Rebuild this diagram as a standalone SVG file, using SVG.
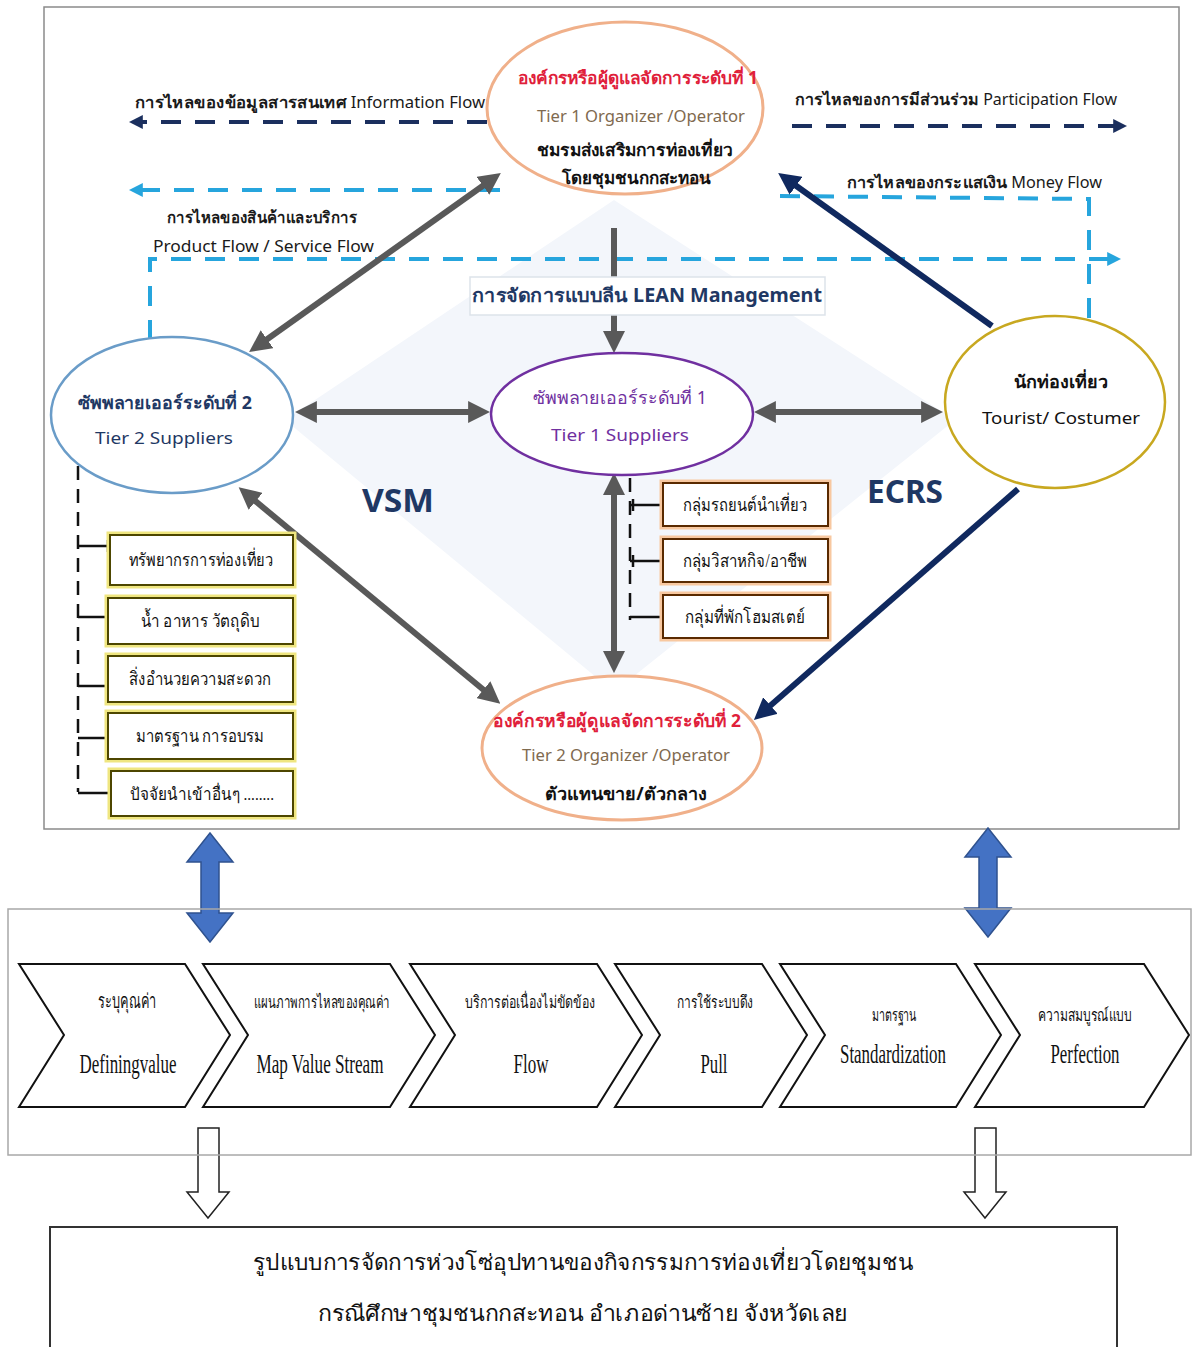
<svg xmlns="http://www.w3.org/2000/svg" width="1197" height="1347" viewBox="0 0 1197 1347">
<style>
text{font-family:"Noto Sans","Liberation Sans",sans-serif;}
.th{font-family:"Liberation Serif","Noto Sans",serif;}
.c{text-anchor:middle;}
.b{font-weight:bold;}
.navyT{fill:#1f3864;}
.red{fill:#e0203a;}
.brown{fill:#7f6a4f;}
.purple{fill:#7030a0;}
.gray{stroke:#595959;stroke-width:6;fill:none;}
.navyA{stroke:#10295f;stroke-width:6;fill:none;}
.dn{stroke:#1b2f5e;stroke-width:4;fill:none;stroke-dasharray:20 14;}
.dl{stroke:#26a5dd;stroke-width:4;fill:none;stroke-dasharray:20 14;}
.ybox{fill:#fff;stroke:#4d4600;stroke-width:2;}
.yglow{fill:none;stroke:#efe680;stroke-width:7;}
.obox{fill:#fff;stroke:#5a2a00;stroke-width:2;}
.oglow{fill:none;stroke:#f8c8a0;stroke-width:7;}
.tick{stroke:#111;stroke-width:2.5;fill:none;}
.dtick{stroke:#111;stroke-width:2.5;fill:none;stroke-dasharray:14 9;}
.chev{fill:#fff;stroke:#111;stroke-width:2;}
.ct{font-family:"Liberation Serif",serif;fill:#111;text-anchor:middle;}
.blk{fill:#4472c4;stroke:#2f528f;stroke-width:1.5;}
.hol{fill:#fff;stroke:#222;stroke-width:1.5;}
.fl{font-size:16px;fill:#1a1a1a;}
</style>
<defs>
<marker id="ag" viewBox="0 0 20 20" refX="9" refY="10" markerWidth="22" markerHeight="22" markerUnits="userSpaceOnUse" orient="auto-start-reverse"><path d="M0,0 L20,10 L0,20 z" fill="#595959"/></marker>
<marker id="an" viewBox="0 0 20 20" refX="9" refY="10" markerWidth="22" markerHeight="22" markerUnits="userSpaceOnUse" orient="auto-start-reverse"><path d="M0,0 L20,10 L0,20 z" fill="#10295f"/></marker>
<marker id="dn" viewBox="0 0 10 10" refX="2" refY="5" markerWidth="14" markerHeight="14" markerUnits="userSpaceOnUse" orient="auto"><path d="M0,0 L10,5 L0,10 z" fill="#1b2f5e"/></marker>
<marker id="dl" viewBox="0 0 10 10" refX="2" refY="5" markerWidth="14" markerHeight="14" markerUnits="userSpaceOnUse" orient="auto"><path d="M0,0 L10,5 L0,10 z" fill="#26a5dd"/></marker>
</defs>
<rect width="1197" height="1347" fill="#fff"/>
<!-- top frame -->
<rect x="44" y="7" width="1135" height="822" fill="#fff" stroke="#8a8a8a" stroke-width="1.5"/>
<polygon points="614,200 955,420 614,692 285,420" fill="#f3f6fb"/>

<g id="connectors">
  <line class="dn" x1="487" y1="122" x2="140" y2="122" marker-end="url(#dn)"/>
  <line class="dn" x1="792" y1="126" x2="1116" y2="126" marker-end="url(#dn)"/>
  <line class="dl" x1="500" y1="190" x2="140" y2="190" marker-end="url(#dl)"/>
  <path class="dl" d="M150,340 L150,259 L1110,259" marker-end="url(#dl)"/>
  <path class="dl" d="M1089,318 L1089,199 L778,196"/>
  <line class="gray" x1="614" y1="228" x2="614" y2="341" marker-end="url(#ag)"/>
  <line class="gray" x1="307" y1="412" x2="478" y2="412" marker-start="url(#ag)" marker-end="url(#ag)"/>
  <line class="gray" x1="766" y1="412" x2="931" y2="412" marker-start="url(#ag)" marker-end="url(#ag)"/>
  <line class="gray" x1="259" y1="345" x2="491" y2="180" marker-start="url(#ag)" marker-end="url(#ag)"/>
  <line class="gray" x1="248" y1="495" x2="491" y2="696" marker-start="url(#ag)" marker-end="url(#ag)"/>
  <line class="gray" x1="614" y1="485" x2="614" y2="661" marker-start="url(#ag)" marker-end="url(#ag)"/>
  <line class="navyA" x1="992" y1="326" x2="788" y2="180" marker-end="url(#an)"/>
  <line class="navyA" x1="1018" y1="489" x2="763" y2="712" marker-end="url(#an)"/>
  <!-- left dashed tree -->
  <line class="dtick" x1="78" y1="466" x2="78" y2="792"/>
  <path class="tick" d="M78,546 L110,546 M108,540 L108,552"/>
  <path class="tick" d="M78,617 L108,617"/>
  <path class="tick" d="M78,686 L108,686"/>
  <path class="tick" d="M78,738 L108,738"/>
  <path class="tick" d="M78,793 L111,793"/>
  <!-- right dashed tree -->
  <line class="dtick" x1="630" y1="478" x2="630" y2="620"/>
  <path class="tick" d="M630,505 L663,505 M633,499 L633,511"/>
  <path class="tick" d="M630,561 L663,561 M633,555 L633,567"/>
  <path class="tick" d="M630,617 L663,617"/>
  <!-- block arrows -->
  <polygon class="blk" points="210,833 233,862 219,862 219,913 233,913 210,942 187,913 201,913 201,862 187,862"/>
  <polygon class="blk" points="988,828 1011,857 997,857 997,908 1011,908 988,937 965,908 979,908 979,857 965,857"/>
  <polygon class="hol" points="198,1128 219,1128 219,1192 229,1192 208,1218 187,1192 198,1192"/>
  <polygon class="hol" points="975,1128 996,1128 996,1192 1006,1192 985,1218 964,1192 975,1192"/>
</g>

<g id="lean-label">
  <rect x="470" y="277" width="355" height="38" fill="#fff" stroke="#dde3ea" stroke-width="1.5"/>
  <text class="c b navyT" x="647" y="302" font-size="19" textLength="350" lengthAdjust="spacingAndGlyphs">การจัดการแบบลีน LEAN Management</text>
</g>

<g id="flow-labels">
  <text class="fl" x="135" y="108" textLength="350" lengthAdjust="spacingAndGlyphs"><tspan font-weight="bold">การไหลของข้อมูลสารสนเทศ</tspan>  Information  Flow</text>
  <text class="fl" x="795" y="105" textLength="322" lengthAdjust="spacingAndGlyphs"><tspan font-weight="bold">การไหลของการมีส่วนร่วม</tspan> Participation  Flow</text>
  <text class="fl" x="847" y="188" textLength="255" lengthAdjust="spacingAndGlyphs"><tspan font-weight="bold">การไหลของกระแสเงิน</tspan>  Money Flow</text>
  <text class="fl" x="167" y="223" font-weight="bold" textLength="190" lengthAdjust="spacingAndGlyphs">การไหลของสินค้าและบริการ</text>
  <text class="fl" x="153" y="252" textLength="221" lengthAdjust="spacingAndGlyphs">Product Flow / Service Flow</text>
  <text class="c b navyT" x="398" y="512" font-size="32" textLength="72" lengthAdjust="spacingAndGlyphs">VSM</text>
  <text class="c b navyT" x="905" y="503" font-size="32" textLength="76" lengthAdjust="spacingAndGlyphs">ECRS</text>
</g>

<g id="tier1-organizer">
  <ellipse cx="625" cy="108" rx="138" ry="86" fill="#fff" stroke="#f0b08a" stroke-width="3"/>
  <text class="c b red" x="638" y="84" font-size="17" textLength="240" lengthAdjust="spacingAndGlyphs">องค์กรหรือผู้ดูแลจัดการระดับที่ 1</text>
  <text class="c brown" x="641" y="122" font-size="16" textLength="208" lengthAdjust="spacingAndGlyphs">Tier 1 Organizer /Operator</text>
  <text class="c b" x="635" y="156" font-size="17" fill="#111" textLength="196" lengthAdjust="spacingAndGlyphs">ชมรมส่งเสริมการท่องเที่ยว</text>
  <text class="c b" x="636" y="184" font-size="17" fill="#111" textLength="149" lengthAdjust="spacingAndGlyphs">โดยชุมชนกกสะทอน</text>
</g>

<g id="tier2-suppliers">
  <ellipse cx="172" cy="415" rx="121" ry="78" fill="#fff" stroke="#6a9cc8" stroke-width="2.5"/>
  <text class="c b navyT" x="165" y="409" font-size="18" textLength="174" lengthAdjust="spacingAndGlyphs">ซัพพลายเออร์ระดับที่ 2</text>
  <text class="c navyT" x="164" y="444" font-size="17" textLength="138" lengthAdjust="spacingAndGlyphs">Tier 2 Suppliers</text>
</g>

<g id="tier1-suppliers">
  <ellipse cx="622" cy="414" rx="131" ry="61" fill="#fff" stroke="#7030a0" stroke-width="2.5"/>
  <text class="c purple" x="620" y="404" font-size="18" textLength="174" lengthAdjust="spacingAndGlyphs">ซัพพลายเออร์ระดับที่ 1</text>
  <text class="c purple" x="620" y="441" font-size="17" textLength="138" lengthAdjust="spacingAndGlyphs">Tier 1 Suppliers</text>
</g>

<g id="tourist">
  <ellipse cx="1055" cy="402" rx="110" ry="86" fill="#fff" stroke="#c8a820" stroke-width="2.5"/>
  <text class="c b" x="1061" y="388" font-size="18" fill="#111" textLength="94" lengthAdjust="spacingAndGlyphs">นักท่องเที่ยว</text>
  <text class="c" x="1061" y="424" font-size="17" fill="#111" textLength="158" lengthAdjust="spacingAndGlyphs">Tourist/ Costumer</text>
</g>

<g id="tier2-organizer">
  <ellipse cx="622" cy="748" rx="140" ry="72" fill="#fff" stroke="#f0b08a" stroke-width="3"/>
  <text class="c b red" x="617" y="727" font-size="18" textLength="248" lengthAdjust="spacingAndGlyphs">องค์กรหรือผู้ดูแลจัดการระดับที่ 2</text>
  <text class="c brown" x="626" y="761" font-size="16" textLength="208" lengthAdjust="spacingAndGlyphs">Tier 2 Organizer /Operator</text>
  <text class="c b" x="626" y="800" font-size="18" fill="#111" textLength="162" lengthAdjust="spacingAndGlyphs">ตัวแทนขาย/ตัวกลาง</text>
</g>

<g id="inputs">
  <rect class="yglow" x="110" y="535" width="183" height="50"/><rect class="ybox" x="110" y="535" width="183" height="50"/>
  <text class="c th" x="201" y="566" font-size="18" fill="#111" textLength="145" lengthAdjust="spacingAndGlyphs">ทรัพยากรการท่องเที่ยว</text>
  <rect class="yglow" x="108" y="598" width="185" height="46"/><rect class="ybox" x="108" y="598" width="185" height="46"/>
  <text class="c th" x="200" y="627" font-size="18" fill="#111" textLength="118" lengthAdjust="spacingAndGlyphs">น้ำ อาหาร วัตถุดิบ</text>
  <rect class="yglow" x="108" y="656" width="185" height="46"/><rect class="ybox" x="108" y="656" width="185" height="46"/>
  <text class="c th" x="200" y="685" font-size="18" fill="#111" textLength="142" lengthAdjust="spacingAndGlyphs">สิ่งอำนวยความสะดวก</text>
  <rect class="yglow" x="108" y="713" width="185" height="46"/><rect class="ybox" x="108" y="713" width="185" height="46"/>
  <text class="c th" x="200" y="742" font-size="18" fill="#111" textLength="128" lengthAdjust="spacingAndGlyphs">มาตรฐาน การอบรม</text>
  <rect class="yglow" x="111" y="771" width="182" height="45"/><rect class="ybox" x="111" y="771" width="182" height="45"/>
  <text class="c th" x="202" y="800" font-size="17" fill="#111" textLength="144" lengthAdjust="spacingAndGlyphs">ปัจจัยนำเข้าอื่นๆ ........</text>
</g>

<g id="groups">
  <rect class="oglow" x="663" y="483" width="165" height="43"/><rect class="obox" x="663" y="483" width="165" height="43"/>
  <text class="c th" x="745" y="511" font-size="18" fill="#111" textLength="124" lengthAdjust="spacingAndGlyphs">กลุ่มรถยนต์นำเที่ยว</text>
  <rect class="oglow" x="663" y="539" width="165" height="43"/><rect class="obox" x="663" y="539" width="165" height="43"/>
  <text class="c th" x="745" y="567" font-size="18" fill="#111" textLength="124" lengthAdjust="spacingAndGlyphs">กลุ่มวิสาหกิจ/อาชีพ</text>
  <rect class="oglow" x="663" y="595" width="165" height="43"/><rect class="obox" x="663" y="595" width="165" height="43"/>
  <text class="c th" x="745" y="623" font-size="18" fill="#111" textLength="120" lengthAdjust="spacingAndGlyphs">กลุ่มที่พักโฮมสเตย์</text>
</g>

<!-- middle frame -->
<rect x="8" y="909" width="1183" height="246" fill="none" stroke="#a8a8a8" stroke-width="1.5"/>

<g id="step-defining">
  <polygon class="chev" points="19,964 185,964 230,1035 185,1107 19,1107 64,1035"/>
  <text class="ct" x="127" y="1008" font-size="20" textLength="58" lengthAdjust="spacingAndGlyphs">ระบุคุณค่า</text>
  <text class="ct" x="128" y="1073" font-size="28" textLength="97" lengthAdjust="spacingAndGlyphs">Definingvalue</text>
</g>
<g id="step-map">
  <polygon class="chev" points="203,964 390,964 435,1035 390,1107 203,1107 248,1035"/>
  <text class="ct" x="322" y="1008" font-size="17" textLength="136" lengthAdjust="spacingAndGlyphs">แผนภาพการไหลของคุณค่า</text>
  <text class="ct" x="320" y="1073" font-size="28" textLength="127" lengthAdjust="spacingAndGlyphs">Map Value Stream</text>
</g>
<g id="step-flow">
  <polygon class="chev" points="410,964 597,964 642,1035 597,1107 410,1107 455,1035"/>
  <text class="ct" x="530" y="1008" font-size="17" textLength="130" lengthAdjust="spacingAndGlyphs">บริการต่อเนื่องไม่ขัดข้อง</text>
  <text class="ct" x="531" y="1073" font-size="28" textLength="35" lengthAdjust="spacingAndGlyphs">Flow</text>
</g>
<g id="step-pull">
  <polygon class="chev" points="615,964 762,964 807,1035 762,1107 615,1107 660,1035"/>
  <text class="ct" x="715" y="1008" font-size="17" textLength="76" lengthAdjust="spacingAndGlyphs">การใช้ระบบดึง</text>
  <text class="ct" x="714" y="1073" font-size="28" textLength="27" lengthAdjust="spacingAndGlyphs">Pull</text>
</g>
<g id="step-standard">
  <polygon class="chev" points="780,964 956,964 1001,1035 956,1107 780,1107 825,1035"/>
  <text class="ct" x="894" y="1021" font-size="18" textLength="45" lengthAdjust="spacingAndGlyphs">มาตรฐาน</text>
  <text class="ct" x="893" y="1063" font-size="28" textLength="106" lengthAdjust="spacingAndGlyphs">Standardization</text>
</g>
<g id="step-perfection">
  <polygon class="chev" points="975,964 1144,964 1189,1035 1144,1107 975,1107 1020,1035"/>
  <text class="ct" x="1085" y="1021" font-size="17" textLength="94" lengthAdjust="spacingAndGlyphs">ความสมบูรณ์แบบ</text>
  <text class="ct" x="1085" y="1063" font-size="28" textLength="69" lengthAdjust="spacingAndGlyphs">Perfection</text>
</g>

<g id="conclusion">
  <rect x="50" y="1227" width="1067" height="135" fill="#fff" stroke="#333" stroke-width="2"/>
  <text class="c" x="583" y="1270" font-size="22" fill="#111" textLength="660" lengthAdjust="spacingAndGlyphs">รูปแบบการจัดการห่วงโซ่อุปทานของกิจกรรมการท่องเที่ยวโดยชุมชน</text>
  <text class="c" x="583" y="1321" font-size="22" fill="#111" textLength="530" lengthAdjust="spacingAndGlyphs">กรณีศึกษาชุมชนกกสะทอน อำเภอด่านซ้าย จังหวัดเลย</text>
</g>
</svg>
